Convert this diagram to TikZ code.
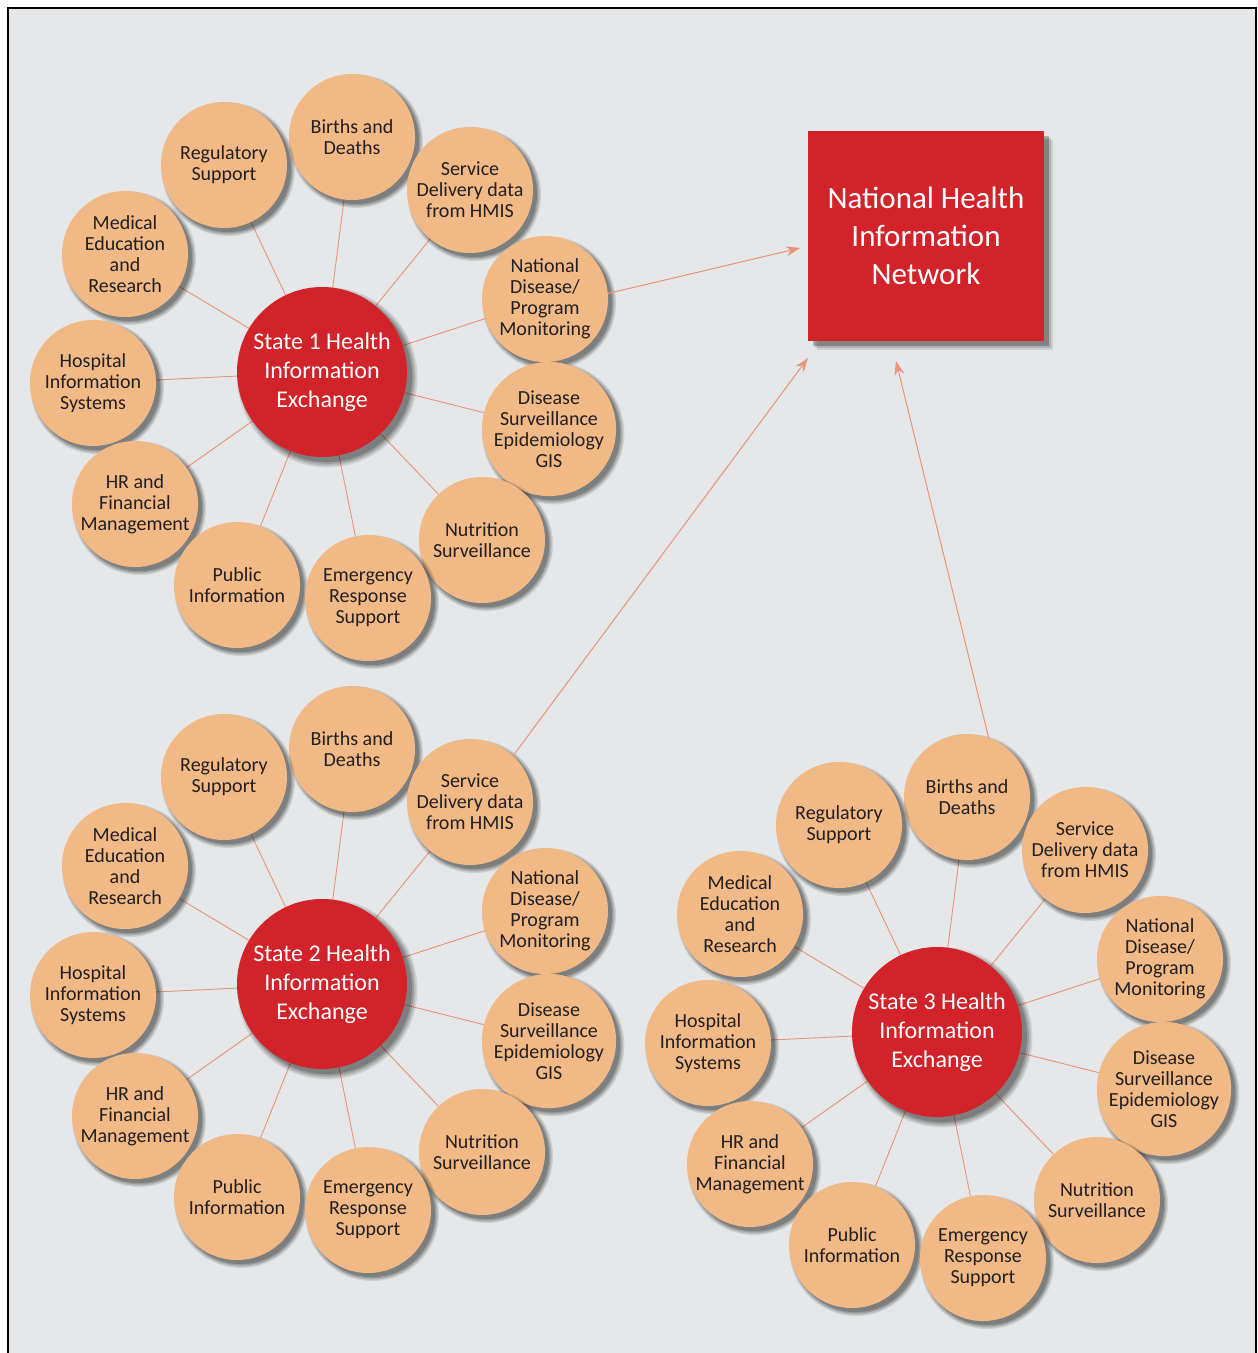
\documentclass[tikz,border=0pt]{standalone}
\usepackage{fontspec}
\setmainfont{Carlito}
\usetikzlibrary{arrows.meta,shadows}
\definecolor{bgc}{HTML}{E6E7E8}
\definecolor{peach}{HTML}{F0B986}
\definecolor{hred}{HTML}{D2232A}
\definecolor{link}{HTML}{E8957B}
\definecolor{ink}{HTML}{231F20}
\pgfdeclarelayer{backdrop}
\pgfdeclarelayer{lines}
\pgfsetlayers{backdrop,lines,main}
\tikzset{
  softshadow/.style={
    drop shadow={shadow xshift=#1, shadow yshift=-#1, shadow scale=1.06, opacity=0.10, fill=black},
    drop shadow={shadow xshift=#1, shadow yshift=-#1, shadow scale=1.04, opacity=0.12, fill=black},
    drop shadow={shadow xshift=#1, shadow yshift=-#1, shadow scale=1.02, opacity=0.15, fill=black},
    drop shadow={shadow xshift=#1, shadow yshift=-#1, shadow scale=1.00, opacity=0.18, fill=black}},
  boxshadow/.style={
    drop shadow={shadow xshift=9pt, shadow yshift=-9pt, opacity=0.10, fill=black},
    drop shadow={shadow xshift=7pt, shadow yshift=-7pt, opacity=0.15, fill=black},
    drop shadow={shadow xshift=5pt, shadow yshift=-5pt, opacity=0.25, fill=black}},
  sat/.style={circle, fill=peach, minimum size=126pt, inner sep=0pt, align=center,
    font=\fontsize{20}{21}\selectfont, text=ink, softshadow=4pt},
  hub/.style={circle, fill=hred, minimum size=170pt, inner sep=0pt, align=center,
    font=\fontsize{24}{29}\selectfont, text=white, softshadow=5pt},
  natbox/.style={rectangle, fill=hred, minimum width=236pt, minimum height=210pt, inner sep=0pt,
    align=center, font=\fontsize{31}{38}\selectfont, text=white, boxshadow},
  spoke/.style={draw=link, line width=0.9pt},
  feed/.style={draw=link, line width=1pt, -{Stealth[length=14pt,width=10pt]}}
}
\newcommand\hubcluster[4]{%
  \begin{scope}[shift={(#2,#3)}]
    \node[hub] (#1c) at (0,0) {#4};
    \node[sat] (#1bd) at (30,-235) {Births and\\Deaths};
    \node[sat] (#1rs) at (-98,-207) {Regulatory\\Support};
    \node[sat] (#1sd) at (148,-182) {Service\\Delivery data\\from HMIS};
    \node[sat] (#1me) at (-197,-118) {Medical\\Education\\and\\Research};
    \node[sat] (#1nd) at (223,-73) {National\\Disease/\\Program\\Monitoring};
    \node[sat] (#1hi) at (-229,11) {Hospital\\Information\\Systems};
    \node[sat] (#1ds) at (227,57) {Disease\\Surveillance\\Epidemiology\\GIS};
    \node[sat] (#1hr) at (-187,132) {HR and\\Financial\\Management};
    \node[sat] (#1ns) at (160,168) {Nutrition\\Surveillance};
    \node[sat] (#1pi) at (-85,213) {Public\\Information};
    \node[sat] (#1er) at (46,226) {Emergency\\Response\\Support};
  \end{scope}
  \begin{pgfonlayer}{lines}
    \foreach \s in {bd,rs,sd,me,nd,hi,ds,hr,ns,pi,er}
      \draw[spoke] (#1c) -- (#1\s);
  \end{pgfonlayer}%
}
\begin{document}
\begin{tikzpicture}[x=1pt, y=-1pt]
  \useasboundingbox (0,0) rectangle (1258,1353);
  \begin{pgfonlayer}{backdrop}
    \fill[bgc] (8,8) rectangle (1256,1353);
    \draw[black, line width=1.2pt] (8,1353) -- (8,8) -- (1256,8) -- (1256,1353);
  \end{pgfonlayer}

  \node[natbox] (nhin) at (926,236) {National Health\\Information\\Network};

  \hubcluster{a}{322}{372}{State 1 Health\\Information\\Exchange}
  \hubcluster{b}{322}{984}{State 2 Health\\Information\\Exchange}
  \hubcluster{c}{937}{1032}{State 3 Health\\Information\\Exchange}

  \coordinate (t1) at (800,248);
  \coordinate (t2) at (808,358);
  \coordinate (t3) at (896,361);
  \draw[feed] (and.5) -- (t1);
  \draw[feed] (bsd.47) -- (t2);
  \draw[feed] (cbd.70) -- (t3);
\end{tikzpicture}
\end{document}
